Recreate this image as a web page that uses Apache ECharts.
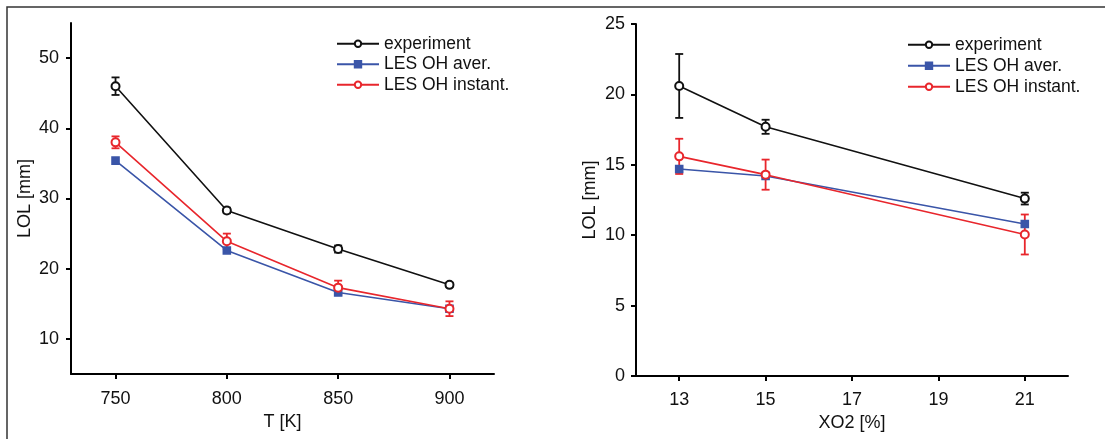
<!DOCTYPE html>
<html>
<head>
<meta charset="utf-8">
<script src="https://cdn.jsdelivr.net/npm/echarts@6/dist/echarts.min.js"></script>
<style>html,body{margin:0;padding:0;background:#fff}#c{width:1105px;height:439px}</style>
</head>
<body>
<div id="c"></div>
<script>
// Left panel: LOL vs temperature
const tempX = [750, 800, 850, 900];
const tempTicks = [750, 800, 850, 900];
const lolTicksLeft = [10, 20, 30, 40, 50];
const expT = [46.0, 28.3, 22.8, 17.7];
const expTErr = [1.25, 0.4, 0.5, 0.3];
const aveT = [35.4, 22.6, 16.6, 14.3];
const instT = [38.0, 23.9, 17.3, 14.3];
const instTErr = [0.85, 1.1, 1.0, 1.05];

// Right panel: LOL vs oxygen fraction
const xo2X = [13, 15, 21];
const xo2Ticks = [13, 15, 17, 19, 21];
const expO = [20.6, 17.7, 12.6];
const expOErr = [2.27, 0.5, 0.42];
const aveO = [14.7, 14.2, 10.8];
const instO = [15.6, 14.3, 10.05];
const instOErr = [1.25, 1.07, 1.42];

const names = ['experiment', 'LES OH aver.', 'LES OH instant.'];
const C_BLACK = '#111111', C_BLUE = '#3a55a8', C_RED = '#e8262c';
const FONT = 'Liberation Sans, Arial, sans-serif';

function pts(xs, ys) { return xs.map((x, i) => [x, ys[i]]); }
function errPts(xs, ys, es) { return xs.map((x, i) => [x, ys[i] - es[i], ys[i] + es[i]]); }

function errSeries(name, data, color, gi) {
  return {
    type: 'custom', name: name, xAxisIndex: gi, yAxisIndex: gi, z: 3,
    silent: true,
    renderItem: function (params, api) {
      const lo = api.coord([api.value(0), api.value(1)]);
      const hi = api.coord([api.value(0), api.value(2)]);
      const w = 4;
      const st = { stroke: color, lineWidth: 1.8 };
      return {
        type: 'group', children: [
          { type: 'line', shape: { x1: lo[0], y1: lo[1], x2: hi[0], y2: hi[1] }, style: st },
          { type: 'line', shape: { x1: lo[0] - w, y1: lo[1], x2: lo[0] + w, y2: lo[1] }, style: st },
          { type: 'line', shape: { x1: hi[0] - w, y1: hi[1], x2: hi[0] + w, y2: hi[1] }, style: st }
        ]
      };
    },
    data: data
  };
}

function lineSeries(name, data, color, symbol, size, gi) {
  return {
    type: 'line', name: name, xAxisIndex: gi, yAxisIndex: gi, z: 4,
    data: data, symbol: symbol, symbolSize: size, showSymbol: true,
    lineStyle: { color: color, width: 1.6 },
    itemStyle: { color: color, borderColor: color, borderWidth: 1.6 },
    emphasis: { disabled: true }, animation: false
  };
}

const axisCommon = {
  axisLine: { show: true, onZero: false, lineStyle: { color: '#000', width: 2 } },
  axisTick: { show: true, inside: false, length: 5, lineStyle: { color: '#000', width: 2 } },
  splitLine: { show: false },
  nameTextStyle: { fontFamily: FONT, fontSize: 18, color: '#111' },
  nameLocation: 'middle'
};
const labelCommon = { fontFamily: FONT, fontSize: 18, color: '#111' };

const option = {
  animation: false,
  backgroundColor: '#fff',
  graphic: [{
    type: 'polyline', shape: { points: [[7, 439], [7, 7], [1105, 7]] },
    style: { stroke: '#333', lineWidth: 1.5, fill: null }
  }],
  grid: [
    { left: 71, top: 23, width: 423, height: 351 },
    { left: 636, top: 24, width: 432, height: 352 }
  ],
  xAxis: [
    Object.assign({}, axisCommon, {
      type: 'value', gridIndex: 0, min: 730, max: 920, name: 'T [K]', nameGap: 37,
      axisTick: Object.assign({}, axisCommon.axisTick, { customValues: tempTicks }),
      axisLabel: Object.assign({}, labelCommon, { margin: 16, customValues: tempTicks })
    }),
    Object.assign({}, axisCommon, {
      type: 'value', gridIndex: 1, min: 12, max: 22, name: 'XO2 [%]', nameGap: 35,
      axisTick: Object.assign({}, axisCommon.axisTick, { customValues: xo2Ticks }),
      axisLabel: Object.assign({}, labelCommon, { margin: 15, customValues: xo2Ticks })
    })
  ],
  yAxis: [
    Object.assign({}, axisCommon, {
      type: 'value', gridIndex: 0, min: 5, max: 55, name: 'LOL [mm]', nameGap: 37,
      axisTick: Object.assign({}, axisCommon.axisTick, { customValues: lolTicksLeft }),
      axisLabel: Object.assign({}, labelCommon, { margin: 12, customValues: lolTicksLeft })
    }),
    Object.assign({}, axisCommon, {
      type: 'value', gridIndex: 1, min: 0, max: 25, interval: 5, name: 'LOL [mm]', nameGap: 37,
      axisLabel: Object.assign({}, labelCommon, { margin: 11 })
    })
  ],
  legend: [
    {
      orient: 'vertical', left: 336, top: 34, padding: 0, data: names,
      itemWidth: 42, itemHeight: 8, itemGap: 1,
      textStyle: { fontFamily: FONT, fontSize: 17.5, color: '#111', lineHeight: 19.5 },
      selectedMode: false
    },
    {
      orient: 'vertical', left: 907, top: 35, padding: 0, data: names,
      itemWidth: 42, itemHeight: 8, itemGap: 1.5,
      textStyle: { fontFamily: FONT, fontSize: 17.5, color: '#111', lineHeight: 19.5 },
      selectedMode: false
    }
  ],
  series: [
    errSeries('errExpT', errPts(tempX, expT, expTErr), C_BLACK, 0),
    errSeries('errInstT', errPts(tempX, instT, instTErr), C_RED, 0),
    lineSeries(names[0], pts(tempX, expT), C_BLACK, 'emptyCircle', 8, 0),
    lineSeries(names[1], pts(tempX, aveT), C_BLUE, 'rect', 7, 0),
    lineSeries(names[2], pts(tempX, instT), C_RED, 'emptyCircle', 8, 0),
    errSeries('errExpO', errPts(xo2X, expO, expOErr), C_BLACK, 1),
    errSeries('errInstO', errPts(xo2X, instO, instOErr), C_RED, 1),
    lineSeries(names[0], pts(xo2X, expO), C_BLACK, 'emptyCircle', 8, 1),
    lineSeries(names[1], pts(xo2X, aveO), C_BLUE, 'rect', 7, 1),
    lineSeries(names[2], pts(xo2X, instO), C_RED, 'emptyCircle', 8, 1)
  ]
};

const chart = echarts.init(document.getElementById('c'), null, { renderer: 'canvas' });
chart.setOption(option);
</script>
</body>
</html>
